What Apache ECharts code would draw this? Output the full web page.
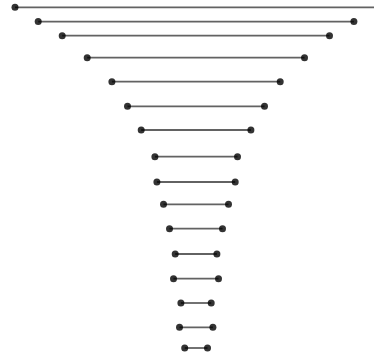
<!DOCTYPE html>
<html>
<head>
<meta charset="utf-8">
<style>
  html, body { margin: 0; padding: 0; background: #fff; }
  #chart { width: 374px; height: 358px; }
</style>
<script src="https://cdn.jsdelivr.net/npm/echarts@6/dist/echarts.min.js"></script>
</head>
<body>
<div id="chart"></div>
<script>
// Vertical position of each level (top to bottom)
const levels = [7.3, 21.6, 35.7, 57.7, 81.7, 106.3, 130, 156.7, 182, 204.3, 228.7, 254, 278.7, 303, 327.3, 348];
// Left and right extent of each level around the centre line
const startValues = [-181, -157.8, -133.8, -108.8, -84.1, -68.5, -54.8, -41.1, -39.1, -32.5, -26.5, -20.8, -22.5, -15.1, -16.5, -11.3];
const endValues = [186, 157.9, 133.5, 108.5, 84.2, 68.5, 54.9, 41.5, 39.2, 32.5, 26.5, 20.9, 22.5, 15.2, 16.9, 11.5];

const segments = levels.map((y, i) => [startValues[i], endValues[i], y]);
const points = [];
levels.forEach((y, i) => {
  points.push([startValues[i], y]);
  points.push([endValues[i], y]);
});

const chart = echarts.init(document.getElementById('chart'));
chart.setOption({
  animation: false,
  grid: { left: 0, right: 0, top: 0, bottom: 0 },
  xAxis: {
    type: 'value', min: -196, max: 178,
    show: false
  },
  yAxis: {
    type: 'value', min: 0, max: 358, inverse: true,
    show: false
  },
  series: [
    {
      type: 'custom',
      clip: false,
      data: segments,
      encode: { x: [0, 1], y: 2 },
      renderItem: function (params, api) {
        const a = api.coord([api.value(0), api.value(2)]);
        const b = api.coord([api.value(1), api.value(2)]);
        return {
          type: 'line',
          shape: { x1: a[0], y1: a[1], x2: b[0], y2: b[1] },
          style: { stroke: '#626262', lineWidth: 1.8 }
        };
      }
    },
    {
      type: 'scatter',
      clip: false,
      data: points,
      symbol: 'circle',
      symbolSize: 7,
      itemStyle: { color: '#000' }
    }
  ]
});
</script>
</body>
</html>
